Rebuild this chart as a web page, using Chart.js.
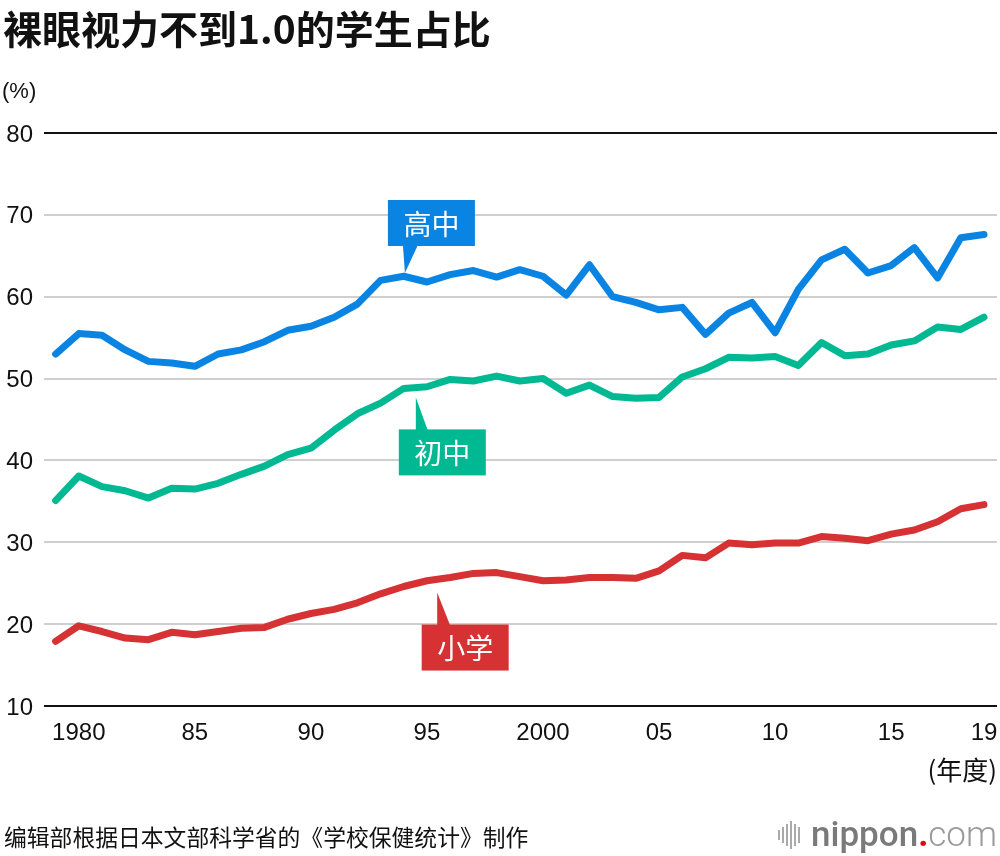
<!DOCTYPE html>
<html>
<head>
<meta charset="utf-8">
<script src="https://cdn.jsdelivr.net/npm/chart.js@4"></script>
<style>
  html, body { margin: 0; padding: 0; background: #fff; }
  #wrap { position: relative; width: 1000px; height: 856px; overflow: hidden; }
  #chart { position: absolute; left: 0; top: 0; }
  .t { position: absolute; white-space: nowrap; color: #111; }
  #title { left: 3px; top: -1px; font: 700 39px "Noto Sans CJK SC", sans-serif; }
  #unit { left: 2px; top: 78px; font: 22px "Liberation Sans", Arial, sans-serif; }
  #xunit { right: 3px; top: 750px; font: 26px "Noto Sans CJK SC", sans-serif; }
  #src { left: 4px; top: 820px; font: 22.8px "Noto Sans CJK SC", sans-serif; }
  #logo { right: 3px; top: 814px; font: 35px "Roboto", "Liberation Sans", sans-serif; color: #808080; display: flex; align-items: center; }
  #logo .bars { display: flex; align-items: center; margin-right: 9px; }
  #logo .bars span { display: inline-block; width: 2px; background: #aaa; margin-right: 2px; }
  #logo .n { font-weight: 500; color: #7a7a7a; }
  #logo .d { color: #e60012; font-weight: 700; }
  #logo .c { font-weight: 300; color: #9a9a9a; }
</style>
</head>
<body>
<div id="wrap">
  <canvas id="chart" width="1000" height="856"></canvas>
  <div class="t" id="title">裸眼视力不到1.0的学生占比</div>
  <div class="t" id="unit">(%)</div>
  <div class="t" id="xunit">(年度)</div>
  <div class="t" id="src">编辑部根据日本文部科学省的《学校保健统计》制作</div>
  <div class="t" id="logo"><span class="bars"><span style="height:10px"></span><span style="height:16px"></span><span style="height:22px"></span><span style="height:28px"></span><span style="height:22px"></span><span style="height:16px"></span></span><span class="n">nippon</span><span class="d">.</span><span class="c">com</span></div>
</div>
<script>
const years = [1979,1980,1981,1982,1983,1984,1985,1986,1987,1988,1989,1990,1991,1992,1993,1994,1995,1996,1997,1998,1999,2000,2001,2002,2003,2004,2005,2006,2007,2008,2009,2010,2011,2012,2013,2014,2015,2016,2017,2018,2019];
const highSchool = [53.0,55.5,55.3,53.5,52.1,51.9,51.5,53.0,53.5,54.5,55.9,56.4,57.5,59.1,62.0,62.5,61.8,62.7,63.2,62.4,63.3,62.5,60.2,63.9,60.0,59.3,58.4,58.7,55.4,58.0,59.3,55.6,60.9,64.5,65.8,62.9,63.8,66.0,62.3,67.2,67.6];
const juniorHigh = [35.1,38.1,36.8,36.3,35.4,36.6,36.5,37.2,38.3,39.3,40.7,41.5,43.7,45.7,47.0,48.8,49.0,49.9,49.7,50.3,49.7,50.0,48.2,49.2,47.8,47.6,47.7,50.2,51.2,52.6,52.5,52.7,51.6,54.4,52.8,53.0,54.1,54.6,56.3,56.0,57.5];
const elementary = [17.9,19.8,19.1,18.3,18.1,19.0,18.7,19.1,19.5,19.6,20.6,21.3,21.8,22.6,23.7,24.6,25.3,25.7,26.2,26.3,25.8,25.3,25.4,25.7,25.7,25.6,26.5,28.4,28.1,29.9,29.7,29.9,29.9,30.7,30.5,30.2,31.0,31.5,32.5,34.1,34.6];
const seriesNames = ['高中','初中','小学'];
const xTicks = [1980,1985,1990,1995,2000,2005,2010,2015,2019];
const xTickLabels = ['1980','85','90','95','2000','05','10','15','19'];
const yTicks = [10,20,30,40,50,60,70,80];

const colors = ['#0a84e2','#00b892','#d63133'];

function pts(vals){ return years.map((y,i)=>({x:y,y:vals[i]})); }

// callout labels: tip anchored in data space, box offsets in px
const callouts = [
  {text: seriesNames[0], color: colors[0], tx: 1994.05, ty: 62.9, box:[-17,-73,87,46], base:[-2,13], up:false},
  {text: seriesNames[1], color: colors[1], tx: 1994.52, ty: 47.7, box:[-17,32,87,46], base:[0,12], up:true},
  {text: seriesNames[2], color: colors[2], tx: 1995.44, ty: 23.86, box:[-15.5,32,87,46], base:[0,13], up:true}
];

const calloutPlugin = {
  id: 'callouts',
  afterDatasetsDraw(chart){
    const ctx = chart.ctx, xs = chart.scales.x, ys = chart.scales.y;
    callouts.forEach(c=>{
      const tx = xs.getPixelForValue(c.tx), ty = ys.getPixelForValue(c.ty);
      const bx = tx + c.box[0], by = ty + c.box[1], bw = c.box[2], bh = c.box[3];
      ctx.save();
      ctx.fillStyle = c.color;
      ctx.fillRect(bx, by, bw, bh);
      ctx.beginPath();
      const baseY = c.up ? by + 1 : by + bh - 1;
      ctx.moveTo(tx + c.base[0], baseY);
      ctx.lineTo(tx + c.base[1], baseY);
      ctx.lineTo(tx, ty);
      ctx.closePath();
      ctx.fill();
      ctx.fillStyle = '#fff';
      ctx.font = '28px "Noto Sans CJK SC", sans-serif';
      ctx.textAlign = 'center';
      ctx.textBaseline = 'middle';
      ctx.fillText(c.text, bx + bw/2, by + bh/2 + 1);
      ctx.restore();
    });
  }
};

new Chart(document.getElementById('chart'), {
  type: 'line',
  data: {
    datasets: [
      {label: seriesNames[0], data: pts(highSchool), borderColor: colors[0]},
      {label: seriesNames[1], data: pts(juniorHigh), borderColor: colors[1]},
      {label: seriesNames[2], data: pts(elementary), borderColor: colors[2]}
    ].map(d=>Object.assign(d,{borderWidth:7, pointRadius:0, tension:0, fill:false, borderCapStyle:'round', borderJoinStyle:'round'}))
  },
  options: {
    responsive: false,
    animation: false,
    events: [],
    layout: { padding: { top: 133, left: 0, right: 3, bottom: 110 } },
    plugins: { legend: {display:false}, tooltip: {enabled:false} },
    scales: {
      x: {
        type: 'linear', min: 1978.5, max: 2019.56,
        afterBuildTicks(s){ s.ticks = xTicks.map(v=>({value:v})); },
        afterFit(s){ s.height = 40; s.paddingLeft = 0; s.paddingRight = 0; },
        grid: { display: false, drawTicks: false },
        border: { display: false },
        ticks: {
          autoSkip: false, maxRotation: 0, padding: 13, color: '#111',
          font: { family: '"Liberation Sans", Arial, sans-serif', size: 24 },
          callback(v){ const i = xTicks.indexOf(v); return i>=0 ? xTickLabels[i] : ''; }
        }
      },
      y: {
        min: 10, max: 80,
        afterBuildTicks(s){ s.ticks = yTicks.map(v=>({value:v})); },
        afterFit(s){ s.width = 44; s.paddingTop = 0; s.paddingBottom = 0; },
        grid: {
          drawTicks: false,
          lineWidth: 2,
          color(ctx){ const v = ctx.tick && ctx.tick.value; return (v===80||v===10) ? '#111' : '#cfcfcf'; }
        },
        border: { display: false },
        ticks: {
          padding: 11, color: '#111', labelOffset: 2,
          font: { family: '"Liberation Sans", Arial, sans-serif', size: 24 }
        }
      }
    }
  },
  plugins: [calloutPlugin]
});
</script>
</body>
</html>
